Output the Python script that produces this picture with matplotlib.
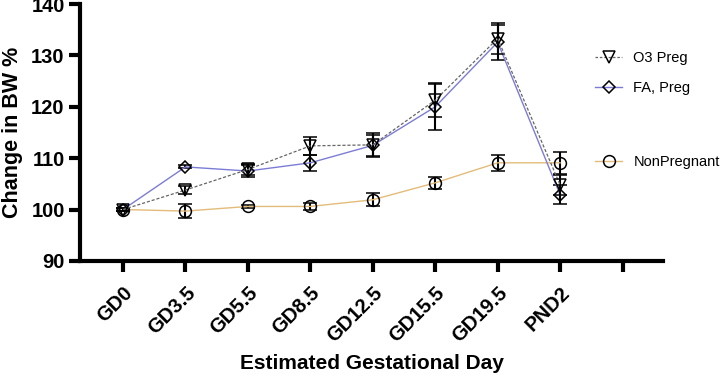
import numpy as np
import matplotlib
matplotlib.use("Agg")
import matplotlib.pyplot as plt
from matplotlib.lines import Line2D

plt.rcParams['font.family'] = ['Liberation Sans', 'DejaVu Sans']

# datos
dias = ["GD0", "GD3.5", "GD5.5", "GD8.5", "GD12.5", "GD15.5", "GD19.5", "PND2"]

o3_preg = [100.0, 103.8, 107.8, 112.4, 112.6, 121.3, 133.3, 104.8]
o3_err = [0.3, 0.8, 1.1, 1.8, 2.4, 3.2, 3.1, 2.0]

fa_preg = [100.0, 108.3, 107.5, 109.1, 112.5, 120.0, 132.6, 102.9]
fa_err = [0.3, 0.3, 1.2, 1.6, 2.0, 4.6, 3.4, 1.9]

non_preg = [100.0, 99.7, 100.6, 100.6, 101.9, 105.2, 109.1, 109.1]
non_err = [0.3, 1.3, 0.3, 0.6, 1.3, 1.2, 1.5, 2.2]

col_o3 = '#666666'
col_fa = '#7c7cd6'
col_np = '#e3bc7a'

fig = plt.figure(figsize=(7.2, 3.77), dpi=100)
ax = fig.add_axes([0.111, 0.308, 0.81, 0.681])

x = np.arange(len(dias))

ax.errorbar(x, non_preg, yerr=non_err, color=col_np, lw=1, ls='-',
            marker='o', ms=8.5, mfc='none', mec='black', mew=1.1,
            ecolor='black', elinewidth=1.5, capsize=5, capthick=1.5, zorder=3)
ax.errorbar(x, fa_preg, yerr=fa_err, color=col_fa, lw=1, ls='-',
            marker='D', ms=6, mfc='none', mec='black', mew=1.1,
            ecolor='black', elinewidth=1.5, capsize=5, capthick=1.5, zorder=4)
ax.errorbar(x, o3_preg, yerr=o3_err, color=col_o3, lw=0.9, ls=(0, (2.5, 1.5)),
            marker='v', ms=8, mfc='none', mec='black', mew=1.1,
            ecolor='black', elinewidth=1.5, capsize=5, capthick=1.5, zorder=5)

ax.set_ylim(90, 140)
ax.set_yticks([90, 100, 110, 120, 130, 140])
ax.set_xlim(-0.69, 8.65)
ax.set_xticks(np.arange(len(dias) + 1))
ax.set_xticklabels(dias + [""], rotation=45, ha='right', rotation_mode='anchor')

for lbl in ax.get_xticklabels() + ax.get_yticklabels():
    lbl.set_fontweight('bold')
    lbl.set_fontsize(14.5)

ax.spines['top'].set_visible(False)
ax.spines['right'].set_visible(False)
ax.spines['left'].set_linewidth(3)
ax.spines['bottom'].set_linewidth(3)
ax.tick_params(axis='both', width=3, length=8, direction='out')
ax.tick_params(axis='x', pad=8)
ax.tick_params(axis='y', pad=3)

ax.set_ylabel("Change in BW %", fontsize=15.5, fontweight='bold')
ax.set_xlabel("Estimated Gestational Day", fontsize=15, fontweight='bold')
ax.yaxis.set_label_coords(-0.098, 0.5)
ax.xaxis.set_label_coords(0.5, -0.362)

# leyenda
h_o3 = Line2D([], [], color=col_o3, lw=0.9, ls=(0, (2.0, 1.5)), marker='v', ms=8,
              mfc='none', mec='black', mew=1.1)
h_fa = Line2D([], [], color=col_fa, lw=1, marker='D', ms=6,
              mfc='none', mec='black', mew=1.1)
h_np = Line2D([], [], color=col_np, lw=1, marker='o', ms=8.5,
              mfc='none', mec='black', mew=1.1)

fig.legend([h_o3, h_fa], ["O3 Preg", "FA, Preg"], loc='center left',
           bbox_to_anchor=(0.826, 0.806), frameon=False, fontsize=10.5,
           handlelength=1.9, handletextpad=0.75, labelspacing=1.05,
           borderpad=0, borderaxespad=0)
fig.legend([h_np], ["NonPregnant"], loc='center left',
           bbox_to_anchor=(0.826, 0.570), frameon=False, fontsize=10.5,
           handlelength=1.9, handletextpad=0.75, borderpad=0, borderaxespad=0)

fig.savefig("out.png", dpi=100)
